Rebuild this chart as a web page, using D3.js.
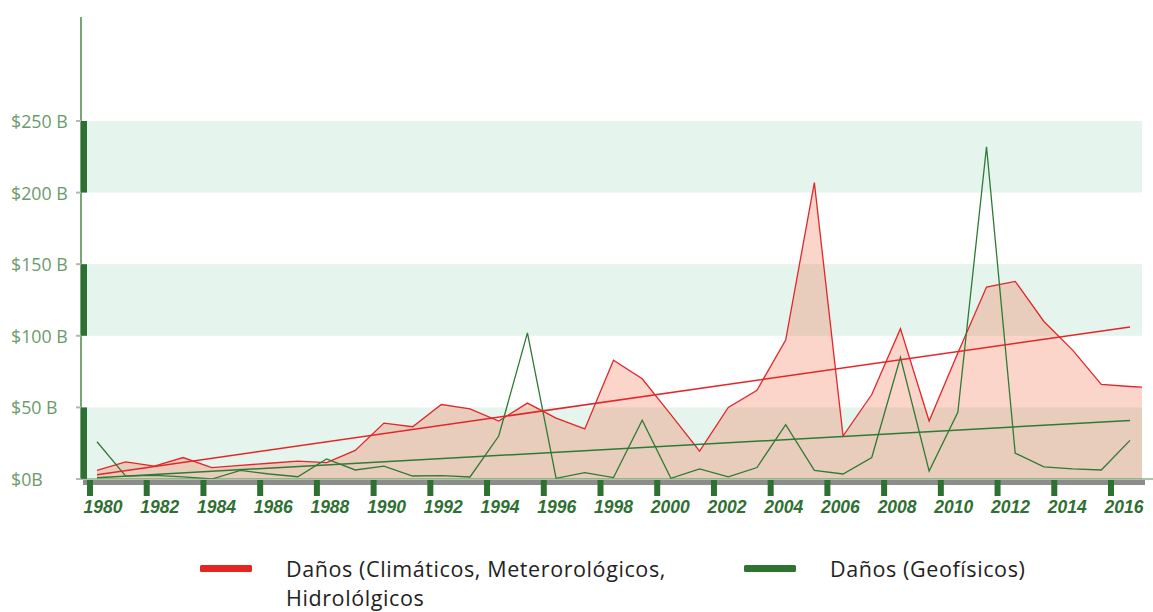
<!DOCTYPE html>
<html><head><meta charset="utf-8">
<script src="https://cdn.jsdelivr.net/npm/d3@7"></script>
<style>body{margin:0;background:#fff;} svg{display:block;}</style>
</head><body><svg id="c" width="1153" height="612"></svg>
<script>
// ---- data ----
const years = [1980,1981,1982,1983,1984,1985,1986,1987,1988,1989,1990,1991,1992,1993,1994,1995,1996,1997,1998,1999,2000,2001,2002,2003,2004,2005,2006,2007,2008,2009,2010,2011,2012,2013,2014,2015,2016,2017];
// Daños (Climáticos, Meteorológicos, Hidrológicos), billions USD
const climaticDamage = [6,12,9,15,8,9.5,11,12.5,11.5,20,39,36.5,52,49,40.5,53,42.5,35,83,70,45,19.5,50,62,97,207,30,59,105,40.5,88,134,138,110,90,66,64.6,63.5];
// Daños (Geofísicos), billions USD (1980-2016)
const geoDamage = [26,2,2.5,1.5,0,6,3.5,1.6,14,6.3,9,2.1,2.3,1.4,30,102,0.5,4.5,1,41,0.5,7,1.5,8,38,6,3.5,15,85,5.5,46.5,232,18,8.5,7,6.3,27];
const yTickValues = [0,50,100,150,200,250];
const yTickLabels = ["$0B","$50 B","$100 B","$150 B","$200 B","$250 B"];
const xTickYears = [1980,1982,1984,1986,1988,1990,1992,1994,1996,1998,2000,2002,2004,2006,2008,2010,2012,2014,2016];
const xTickLabels = xTickYears.map(String);
const legendLabels = [["Daños (Climáticos, Meterorológicos,","Hidrolólgicos"],["Daños (Geofísicos)"]];
const trendYears = [1980, 2016];

// ---- styles ----
const RED = "#e3262a", GREEN = "#2f7a34", DARKGREEN = "#2e7031", BAND = "#e5f4ec";

const svg = d3.select("#c");
const x = d3.scaleLinear().domain([1980, 2016]).range([97, 1130]);
const xt = d3.scaleLinear().domain([1980, 2016]).range([90, 1111]);
const y = d3.scaleLinear().domain([0, 322.6]).range([479, 17]);
const plotLeft = 81, plotRight = 1142;

svg.append("defs").append("clipPath").attr("id","clip")
  .append("rect").attr("x", plotLeft).attr("y", 0).attr("width", plotRight - plotLeft).attr("height", y(0));

// bands
const bands = [];
for (let i = 0; i + 1 < yTickValues.length; i += 2) bands.push([yTickValues[i], yTickValues[i+1]]);
svg.append("g").selectAll("rect").data(bands).join("rect")
  .attr("x", 87).attr("width", plotRight - 87)
  .attr("y", d => y(d[1])).attr("height", d => y(d[0]) - y(d[1]))
  .attr("fill", BAND);

const redData = years.map((yr, i) => ({year: yr, v: climaticDamage[i]}));
const geoData = geoDamage.map((v, i) => ({year: years[i], v}));

const plot = svg.append("g").attr("clip-path", "url(#clip)");
plot.append("path").datum(redData)
  .attr("d", d3.area().x(d => x(d.year)).y0(y(0)).y1(d => y(d.v)))
  .attr("fill", "rgba(240,100,60,0.27)");
plot.append("path").datum(redData)
  .attr("d", d3.line().x(d => x(d.year)).y(d => y(d.v)))
  .attr("fill", "none").attr("stroke", RED).attr("stroke-width", 1.3).attr("stroke-linejoin","miter");
plot.append("path").datum(geoData)
  .attr("d", d3.line().x(d => x(d.year)).y(d => y(d.v)))
  .attr("fill", "none").attr("stroke", GREEN).attr("stroke-width", 1.3);

function fit(data) {
  const d = data.filter(p => p.year >= trendYears[0] && p.year <= trendYears[1]);
  const mx = d3.mean(d, p => p.year), my = d3.mean(d, p => p.v);
  const b = d3.sum(d, p => (p.year - mx) * (p.v - my)) / d3.sum(d, p => (p.year - mx) ** 2);
  return trendYears.map(t => ({year: t, v: my + b * (t - mx)}));
}
const trendLine = d3.line().x(d => x(d.year)).y(d => y(d.v));
plot.append("path").datum(fit(redData)).attr("d", trendLine)
  .attr("fill","none").attr("stroke", RED).attr("stroke-width", 1.5);
plot.append("path").datum(fit(geoData)).attr("d", trendLine)
  .attr("fill","none").attr("stroke", GREEN).attr("stroke-width", 1.5);

// y axis
svg.append("line").attr("x1", 81).attr("x2", 81).attr("y1", 17).attr("y2", y(0))
  .attr("stroke", "#78a678").attr("stroke-width", 2);
svg.append("g").selectAll("rect").data(bands).join("rect")
  .attr("x", 81).attr("width", 6)
  .attr("y", d => y(d[1])).attr("height", d => y(d[0]) - y(d[1]))
  .attr("fill", DARKGREEN);
svg.append("g").selectAll("line").data(yTickValues).join("line")
  .attr("x1", 76).attr("x2", 81).attr("y1", d => y(d)).attr("y2", d => y(d))
  .attr("stroke", "#b5b5b5").attr("stroke-width", 2);
svg.append("g").selectAll("text").data(yTickValues).join("text")
  .attr("x", 11).attr("y", d => y(d)).attr("dominant-baseline", "central")
  .attr("font-family", "'Open Sans', sans-serif").attr("font-size", 17.8)
  .attr("fill", "#6b9b6b").text((d, i) => yTickLabels[i]);

// x axis
svg.append("rect").attr("x", 83).attr("y", y(0) + 1).attr("width", 1062).attr("height", 5).attr("fill", "#8c8c8c");
svg.append("line").attr("x1", 81).attr("x2", 1153).attr("y1", y(0)).attr("y2", y(0))
  .attr("stroke", "#4f8f53").attr("stroke-width", 1.2);
svg.append("g").selectAll("rect").data(xTickYears).join("rect")
  .attr("x", d => xt(d) - 3).attr("y", y(0) + 1).attr("width", 6).attr("height", 16)
  .attr("fill", DARKGREEN);
svg.append("g").selectAll("text").data(xTickYears).join("text")
  .attr("x", d => xt(d) + 13).attr("y", 507).attr("text-anchor", "middle").attr("dominant-baseline", "central")
  .attr("font-family", "'Liberation Sans', Arial, sans-serif").attr("font-size", 17.5).attr("font-weight", 700).attr("font-style", "italic")
  .attr("fill", DARKGREEN).text((d, i) => xTickLabels[i]);

// legend
const legendColors = ["#e52521", "#2f7232"];
const legendX = [200, 744];
const lg = svg.append("g");
legendLabels.forEach((lines, i) => {
  lg.append("rect").attr("x", legendX[i]).attr("y", 565).attr("width", 52).attr("height", 7).attr("rx", 1.5)
    .attr("fill", legendColors[i]);
  const t = lg.append("text").attr("font-family", "'Open Sans', sans-serif").attr("font-size", 21.5)
    .attr("letter-spacing", 0.6).attr("fill", "#222");
  lines.forEach((ln, j) => {
    t.append("tspan").attr("x", legendX[i] + 86).attr("y", 576.5 + j * 29.3).text(ln);
  });
});
</script></body></html>
